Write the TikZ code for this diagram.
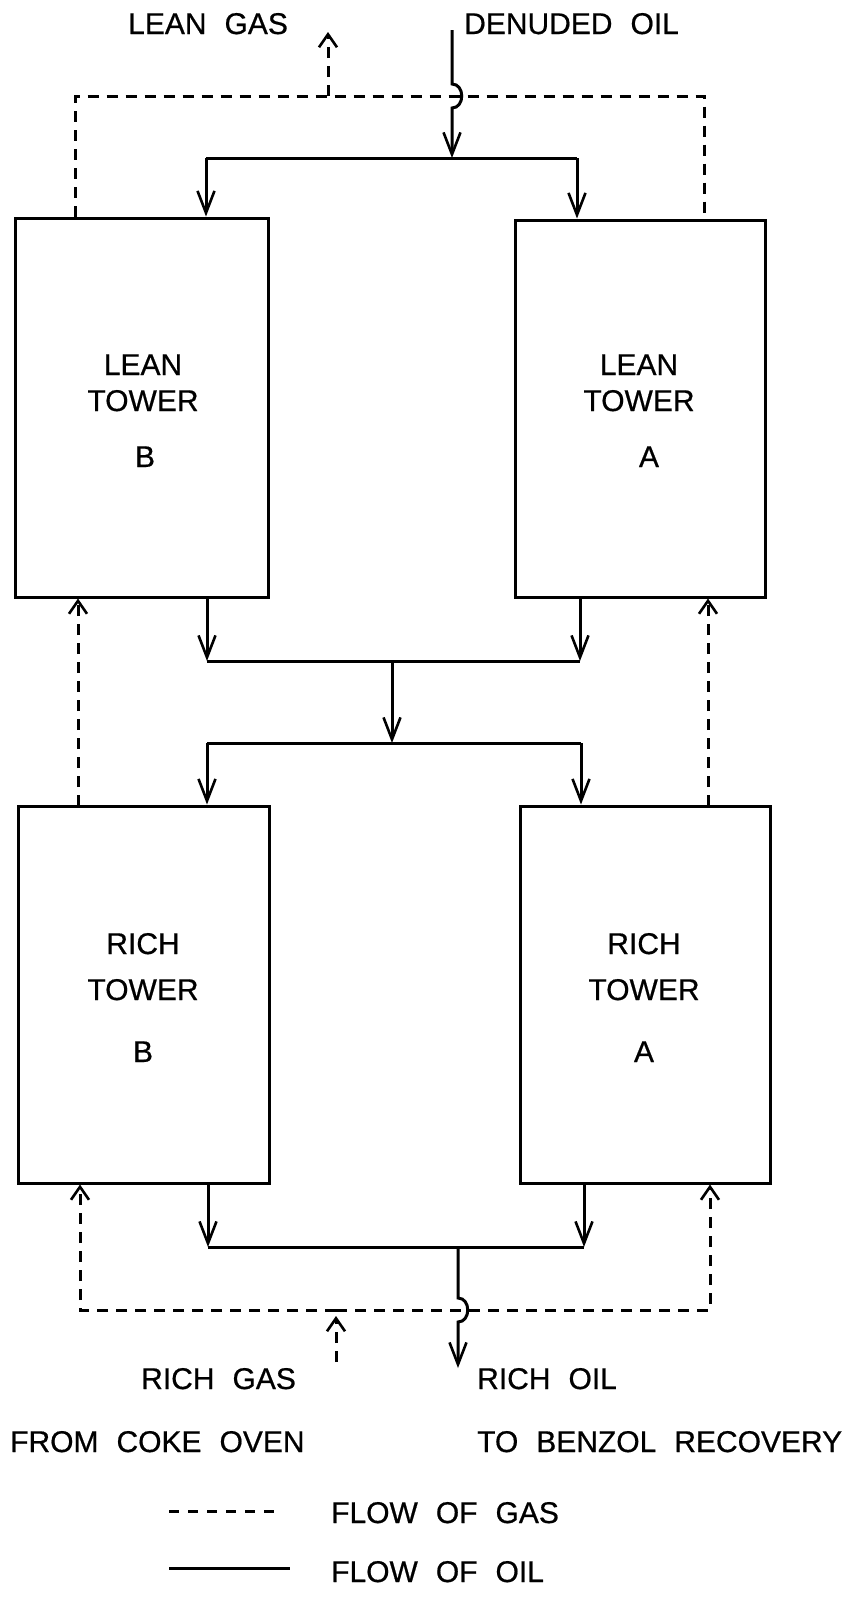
\documentclass[tikz,border=0pt]{standalone}
\usepackage{fontspec}
\setmainfont{Liberation Sans}[FakeBold=0.6]
\usetikzlibrary{arrows.meta}
\newcommand\mylblfont{\fontsize{30}{36}\selectfont\spaceskip=18pt plus 3pt minus 2pt\relax}
\begin{document}
\begin{tikzpicture}[x=1pt,y=-1pt,
  oil/.style={line width=3pt},
  gas/.style={line width=3pt, dash pattern=on 11pt off 8pt},
  oilarrow/.style={oil,-{Straight Barb[length=22pt,width=17pt,line width=2.6pt]}},
  gasarrow/.style={gas,-{Straight Barb[length=13pt,width=18pt,line width=2.6pt]}},
  tower/.style={draw, line width=3pt, inner sep=0pt},
  lbl/.style={inner sep=0pt, font=\mylblfont},
]
\fill[white] (0,0) rectangle (857,1607);
\useasboundingbox (0,0) rectangle (857,1607);

% towers
\node[tower, minimum width=253pt, minimum height=379pt] (LB) at (142,407.5) {};
\node[tower, minimum width=250pt, minimum height=377pt] (LA) at (640,408.5) {};
\node[tower, minimum width=251pt, minimum height=377pt] (RB) at (144,994.5) {};
\node[tower, minimum width=250pt, minimum height=377pt] (RA) at (645,994.5) {};

% tower texts
\node[lbl, anchor=base] (tLB1) at (143,375) {LEAN};
\node[lbl, anchor=base] (tLB2) at (143,411) {TOWER};
\node[lbl, anchor=base] (tLB3) at (145,467) {B};
\node[lbl, anchor=base] (tLA1) at (639,375) {LEAN};
\node[lbl, anchor=base] (tLA2) at (639,411) {TOWER};
\node[lbl, anchor=base] (tLA3) at (649,467) {A};
\node[lbl, anchor=base] (tRB1) at (143,954) {RICH};
\node[lbl, anchor=base] (tRB2) at (143,1000) {TOWER};
\node[lbl, anchor=base] (tRB3) at (143,1062) {B};
\node[lbl, anchor=base] (tRA1) at (644,954) {RICH};
\node[lbl, anchor=base] (tRA2) at (644,1000) {TOWER};
\node[lbl, anchor=base] (tRA3) at (644,1062) {A};

% outside labels
\node[lbl, anchor=base west] (leangas) at (128,34) {LEAN GAS};
\node[lbl, anchor=base west] (denoil) at (464,34) {DENUDED OIL};
\node[lbl, anchor=base west] (richgas) at (141,1389) {RICH GAS};
\node[lbl, anchor=base west] (richoil) at (477,1389) {RICH OIL};
\node[lbl, anchor=base west] (coke) at (10,1452) {FROM COKE OVEN};
\node[lbl, anchor=base west] (benzol) at (477,1452) {TO BENZOL RECOVERY};
\node[lbl, anchor=base west] (flowgas) at (331,1523) {FLOW OF GAS};
\node[lbl, anchor=base west] (flowoil) at (331,1582) {FLOW OF OIL};

% coordinates
\coordinate (doTop) at (452,30);
\coordinate (dist) at (452,158);
\coordinate (dl) at (206,158);
\coordinate (dr) at (577,158);
\coordinate (m1l) at (207,661);
\coordinate (m1r) at (580,661);
\coordinate (m1c) at (392,661);
\coordinate (m2l) at (207,743);
\coordinate (m2r) at (581,743);
\coordinate (m2c) at (392,743);
\coordinate (b1l) at (208,1247);
\coordinate (b1r) at (584,1247);
\coordinate (b1c) at (458,1247);
\coordinate (outc) at (458,1368);
\coordinate (gtl) at (75,96);
\coordinate (gtr) at (704,96);
\coordinate (gtc) at (328,96);
\coordinate (lgtip) at (328,32);
\coordinate (gml) at (78,806);
\coordinate (gmr) at (708,806);
\coordinate (gbl) at (80,1310);
\coordinate (gbr) at (710,1310);
\coordinate (rgc) at (336,1310);
\coordinate (rgtip) at (336,1316);
\coordinate (rgstart) at (336,1362);
\coordinate (lg1) at (169,1511);
\coordinate (lg2) at (282,1511);
\coordinate (lo1) at (169,1568);
\coordinate (lo2) at (290,1568);

% gas lines (top)
\draw[gas] (gtl |- LB.north) -- (gtl) -- (gtr) -- (gtr |- LA.north);
\draw[gasarrow] (gtc) -- (lgtip);

% denuded oil with jump
\draw[oilarrow] (doTop) -- (452,84) .. controls (465,84) and (465,108) .. (452,108) -- (dist);
\draw[oil] (dl) -- (dr);
\draw[oilarrow] (dl) -- (dl |- LB.north);
\draw[oilarrow] (dr) -- (dr |- LA.north);

% lean to rich
\draw[oilarrow] (m1l |- LB.south) -- (m1l);
\draw[oilarrow] (m1r |- LA.south) -- (m1r);
\draw[oil] (m1l) -- (m1r);
\draw[oilarrow] (m1c) -- (m2c);
\draw[oil] (m2l) -- (m2r);
\draw[oilarrow] (m2l) -- (m2l |- RB.north);
\draw[oilarrow] (m2r) -- (m2r |- RA.north);

% gas rich to lean
\draw[gasarrow] (gml) -- (gml |- LB.south);
\draw[gasarrow] (gmr) -- (gmr |- LA.south);

% bottom oil
\draw[oilarrow] (b1l |- RB.south) -- (b1l);
\draw[oilarrow] (b1r |- RA.south) -- (b1r);
\draw[oil] (b1l) -- (b1r);
\draw[oilarrow] (b1c) -- (458,1298) .. controls (471,1298) and (471,1322) .. (458,1322) -- (outc);

% bottom gas
\draw[gasarrow] (rgc) -- (gbl) -- (gbl |- RB.south);
\draw[gasarrow] (rgc) -- (gbr) -- (gbr |- RA.south);
\draw[gasarrow] (rgstart) -- (rgtip);

% legend
\draw[gas, dash pattern=on 10pt off 9pt] (lg1) -- (lg2);
\draw[oil] (lo1) -- (lo2);
\end{tikzpicture}
\end{document}
